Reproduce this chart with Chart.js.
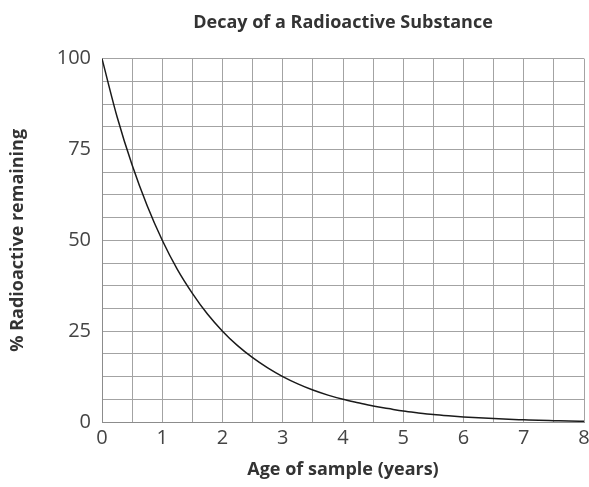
<!DOCTYPE html>
<html>
<head>
<meta charset="utf-8">
<script src="https://cdn.jsdelivr.net/npm/chart.js@4"></script>
<style>
  html, body { margin: 0; padding: 0; background: #ffffff; }
  #wrap { width: 589px; height: 487px; }
</style>
</head>
<body>
<div id="wrap"><canvas id="decayChart" width="589" height="487"></canvas></div>
<script>
// age of sample (years), read every quarter year
const ages = [
  0, 0.25, 0.5, 0.75, 1, 1.25, 1.5, 1.75, 2, 2.25, 2.5, 2.75, 3, 3.25, 3.5, 3.75,
  4, 4.25, 4.5, 4.75, 5, 5.25, 5.5, 5.75, 6, 6.25, 6.5, 6.75, 7, 7.25, 7.5, 7.75, 8,
];
// % radioactive remaining
const remaining = [
  100, 84, 70.7, 59.5, 50, 42, 35.4, 29.7, 25, 21, 17.7, 14.9, 12.5, 10.5, 8.8, 7.4,
  6.25, 5.3, 4.4, 3.7, 3.0, 2.5, 2.05, 1.7, 1.4, 1.15, 0.95, 0.75, 0.6, 0.45, 0.35, 0.25, 0.2,
];
const xLabelTicks = [0, 1, 2, 3, 4, 5, 6, 7, 8];
const yLabelTicks = [0, 25, 50, 75, 100];

const textColor = '#333333';
const tickColor = '#444444';
const gridColor = '#a3a3a3';
const fontFamily = '"Open Sans", "Noto Sans", sans-serif';

document.addEventListener('DOMContentLoaded', () => {
  const ctx = document.getElementById('decayChart').getContext('2d');

  new Chart(ctx, {
    type: 'line',
    data: {
      datasets: [
        {
          data: ages.map((age, i) => ({ x: age, y: remaining[i] })),
          borderColor: '#1a1a1a',
          borderWidth: 1.5,
          pointRadius: 0,
          fill: false,
          cubicInterpolationMode: 'monotone',
        },
      ],
    },
    options: {
      responsive: false,
      animation: false,
      layout: { padding: { left: 0, right: 0, top: 0, bottom: 0 } },
      plugins: {
        legend: { display: false },
        tooltip: { enabled: false },
        title: {
          display: true,
          fullSize: false,
          text: 'Decay of a Radioactive Substance',
          color: textColor,
          font: { family: fontFamily, size: 18, weight: 'bold', lineHeight: 1.2 },
          padding: { top: 12, bottom: 25 },
        },
      },
      scales: {
        x: {
          type: 'linear',
          min: 0,
          max: 8,
          afterFit: (scale) => {
            scale.height = 65;
            scale.paddingRight = 5;
          },
          border: { color: '#8c8c8c', width: 1 },
          grid: { color: gridColor, lineWidth: 1, drawTicks: false },
          ticks: {
            stepSize: 0.5,
            padding: 4,
            color: tickColor,
            maxRotation: 0,
            autoSkip: false,
            font: { family: fontFamily, size: 20 },
            callback: (value) => (xLabelTicks.includes(value) ? String(value) : ''),
          },
          title: {
            display: true,
            text: 'Age of sample (years)',
            color: textColor,
            font: { family: fontFamily, size: 18, weight: 'bold', lineHeight: 1.2 },
            padding: { top: 0, bottom: 6 },
          },
        },
        y: {
          type: 'linear',
          min: 0,
          max: 100,
          afterFit: (scale) => { scale.width = 102; },
          border: { color: '#8c8c8c', width: 1 },
          grid: { color: gridColor, lineWidth: 1, drawTicks: false },
          ticks: {
            stepSize: 6.25,
            padding: 11,
            color: tickColor,
            autoSkip: false,
            font: { family: fontFamily, size: 20 },
            callback: (value) => (yLabelTicks.includes(value) ? String(value) : ''),
          },
          title: {
            display: true,
            text: '% Radioactive remaining',
            color: textColor,
            font: { family: fontFamily, size: 18, weight: 'bold', lineHeight: 1.2 },
            padding: { top: 7, bottom: 0 },
          },
        },
      },
    },
  });
});
</script>
</body>
</html>
